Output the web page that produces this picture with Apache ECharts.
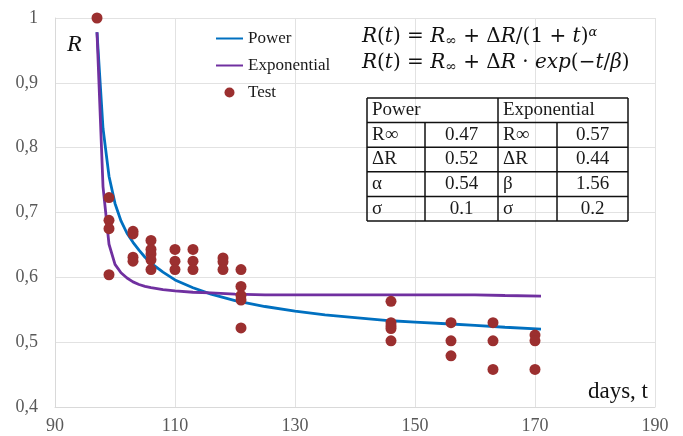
<!DOCTYPE html>
<html>
<head>
<meta charset="utf-8">
<title>R(t)</title>
<script src="https://cdn.jsdelivr.net/npm/echarts@6/dist/echarts.min.js"></script>
<style>
  html, body { margin: 0; padding: 0; background: #fff; }
  #chart { width: 683px; height: 436px; }
</style>
</head>
<body>
<div id="chart"></div>
<script>
// model curves, sampled by day
const curveDays = [97, 98, 99, 100, 101, 102, 103, 104, 105, 106, 108, 110, 113, 116, 120, 125, 130, 135, 140, 146, 150, 156, 160, 165, 171];
const powerValues = [0.978, 0.830, 0.756, 0.714, 0.687, 0.668, 0.654, 0.642, 0.631, 0.622, 0.608, 0.596, 0.584, 0.574, 0.564, 0.555, 0.548, 0.542, 0.538, 0.533, 0.531, 0.528, 0.526, 0.523, 0.520];
const expValues = [0.978, 0.740, 0.651, 0.620, 0.607, 0.599, 0.593, 0.589, 0.586, 0.584, 0.581, 0.579, 0.577, 0.576, 0.574, 0.573, 0.573, 0.573, 0.573, 0.573, 0.573, 0.573, 0.573, 0.572, 0.571];

// test measurements, grouped by day
const testDays = [97, 99, 103, 106, 110, 113, 118, 121, 146, 156, 163, 170];
const testValues = [
  [1.0],
  [0.723, 0.688, 0.675, 0.604],
  [0.671, 0.667, 0.631, 0.625],
  [0.657, 0.643, 0.636, 0.627, 0.612],
  [0.643, 0.625, 0.612],
  [0.643, 0.625, 0.612],
  [0.630, 0.624, 0.612],
  [0.612, 0.586, 0.572, 0.565, 0.522],
  [0.563, 0.530, 0.525, 0.521, 0.502],
  [0.530, 0.502, 0.479],
  [0.530, 0.502, 0.458],
  [0.511, 0.502, 0.458]
];

const seriesNames = ['Power', 'Exponential', 'Test'];
const formulaPower = '{i|R}({i|t}) = {i|R}{sub|∞} + Δ{i|R}/(1 + {i|t}){sup|α}';
const formulaExp = '{i|R}({i|t}) = {i|R}{sub|∞} + Δ{i|R} · {i|exp}(−{i|t}/{i|β})';

const tableHead = ['Power', 'Exponential'];
const tableRows = [
  ['R∞', '0.47', 'R∞', '0.57'],
  ['ΔR', '0.52', 'ΔR', '0.44'],
  ['α', '0.54', 'β', '1.56'],
  ['σ', '0.1', 'σ', '0.2']
];

const serif = '"Liberation Serif", "DejaVu Serif", serif';
const mathFont = '"DejaVu Serif", serif';

let powerData = curveDays.map((d, i) => [d, powerValues[i]]);
let expData = curveDays.map((d, i) => [d, expValues[i]]);
let testData = [];
testDays.forEach((d, i) => {
  testValues[i].forEach(v => testData.push([d, v]));
});

// table drawn as graphic elements
function buildTable() {
  let colX = [367, 425, 498, 557, 628];
  let top = 98, rowH = 24.6;
  let nRows = tableRows.length + 1;
  let bottom = top + rowH * nRows;
  let els = [];
  let line = (x1, y1, x2, y2) => ({
    type: 'line', z: 50, silent: true,
    shape: { x1: x1, y1: y1, x2: x2, y2: y2 },
    style: { stroke: '#111', lineWidth: 1.5 }
  });
  els.push(line(colX[0], top, colX[4], top));
  for (let r = 1; r <= nRows; r++) {
    let y = top + r * rowH;
    els.push(line(colX[0], y, colX[4], y));
  }
  els.push(line(colX[0], top, colX[0], bottom));
  els.push(line(colX[4], top, colX[4], bottom));
  els.push(line(colX[2], top, colX[2], bottom));
  els.push(line(colX[1], top + rowH, colX[1], bottom));
  els.push(line(colX[3], top + rowH, colX[3], bottom));
  let cellText = (x, y, text, align) => ({
    type: 'text', z: 60, silent: true, x: x, y: y,
    style: { text: text, align: align, verticalAlign: 'middle', fontFamily: serif, fontSize: 19, fill: '#1a1a1a' }
  });
  els.push(cellText(colX[0] + 5, top + rowH / 2, tableHead[0], 'left'));
  els.push(cellText(colX[2] + 5, top + rowH / 2, tableHead[1], 'left'));
  tableRows.forEach((row, r) => {
    let y = top + (r + 1.5) * rowH;
    row.forEach((cell, c) => {
      let isVal = c % 2 === 1;
      let x = isVal ? (colX[c] + colX[c + 1]) / 2 : colX[c] + 5;
      els.push(cellText(x, y, cell, isVal ? 'center' : 'left'));
    });
  });
  return els;
}

let mathRich = {
  i: { fontFamily: mathFont, fontSize: 20, fontStyle: 'italic', fill: '#111' },
  sub: { fontFamily: mathFont, fontSize: 14, fill: '#111', verticalAlign: 'bottom', padding: [8, 0, 0, 0] },
  sup: { fontFamily: mathFont, fontSize: 13, fontStyle: 'italic', fill: '#111', verticalAlign: 'top', padding: [0, 0, 8, 0] }
};

let myChart = echarts.init(document.getElementById('chart'));
let option = {
  animation: false,
  backgroundColor: '#fff',
  grid: { left: 55, top: 18, width: 600, height: 389 },
  legend: {
    orient: 'vertical',
    left: 210,
    top: 25,
    itemWidth: 27,
    itemHeight: 10,
    itemGap: 10,
    textStyle: { fontFamily: serif, fontSize: 17, color: '#1a1a1a' },
    data: [
      { name: 'Power', itemStyle: { opacity: 0 } },
      { name: 'Exponential', itemStyle: { opacity: 0 } },
      { name: 'Test' }
    ]
  },
  xAxis: {
    type: 'value',
    min: 90,
    max: 190,
    interval: 20,
    axisLine: { show: true, lineStyle: { color: '#d9d9d9', width: 1 } },
    axisTick: { show: false },
    splitLine: { lineStyle: { color: '#e2e2e2' } },
    axisLabel: { fontFamily: serif, fontSize: 18, color: '#595959', margin: 10 }
  },
  yAxis: {
    type: 'value',
    min: 0.4,
    max: 1,
    interval: 0.1,
    axisLine: { show: true, lineStyle: { color: '#d9d9d9', width: 1 } },
    axisTick: { show: false },
    splitLine: { lineStyle: { color: '#e2e2e2' } },
    axisLabel: {
      fontFamily: serif, fontSize: 18, color: '#595959', margin: 17,
      formatter: v => Math.abs(v - 1) < 1e-9 ? '1' : v.toFixed(1).replace('.', ',')
    }
  },
  graphic: [
    { type: 'text', x: 67, y: 45, z: 60, style: { text: 'R', fontFamily: serif, fontSize: 24, fontStyle: 'italic', fill: '#111', verticalAlign: 'middle' } },
    { type: 'text', x: 648, y: 392, z: 60, style: { text: 'days, t', fontFamily: serif, fontSize: 23, fill: '#111', align: 'right', verticalAlign: 'middle' } },
    { type: 'text', x: 362, y: 37, z: 60, style: { text: formulaPower, rich: mathRich, fontFamily: mathFont, fontSize: 20, fill: '#111', verticalAlign: 'middle' } },
    { type: 'text', x: 362, y: 63, z: 60, style: { text: formulaExp, rich: mathRich, fontFamily: mathFont, fontSize: 20, fill: '#111', verticalAlign: 'middle' } }
  ].concat(buildTable()),
  series: [
    {
      name: 'Power',
      type: 'line',
      data: powerData,
      symbol: 'none',
      z: 2,
      lineStyle: { color: '#0070c0', width: 2.8 },
      itemStyle: { color: '#0070c0' }
    },
    {
      name: 'Exponential',
      type: 'line',
      data: expData,
      symbol: 'none',
      z: 2,
      lineStyle: { color: '#7030a0', width: 2.8 },
      itemStyle: { color: '#7030a0' }
    },
    {
      name: 'Test',
      type: 'scatter',
      data: testData,
      symbolSize: 11,
      z: 3,
      itemStyle: { color: '#9b2f2f', opacity: 1 }
    }
  ]
};
myChart.setOption(option);
</script>
</body>
</html>
